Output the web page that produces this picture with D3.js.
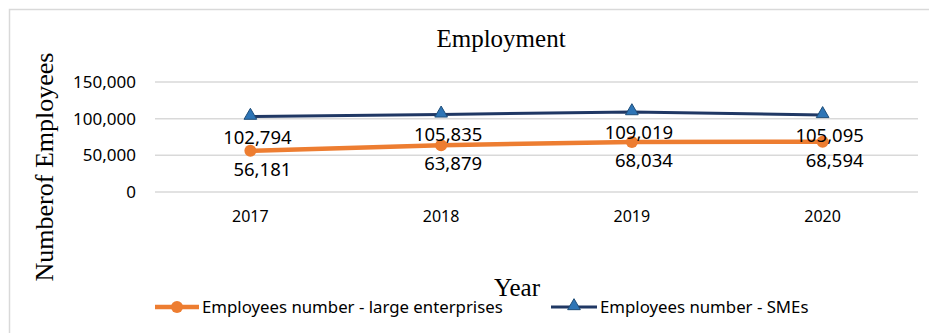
<!DOCTYPE html>
<html lang="en">
<head>
  <meta charset="utf-8">
  <title>Employment</title>
  <script src="https://d3js.org/d3.v7.min.js"></script>
  <style type="text/css">
    body { margin: 0; background: #fff; }
    text { font-family: "Noto Sans", "Open Sans", sans-serif; fill: #000; }
    .serif { font-family: "Liberation Serif", "Times New Roman", serif; }
  </style>
</head>
<body>
  <script type="text/javascript">
    // data
    var years = ["2017", "2018", "2019", "2020"];
    var largeEnterprises = [56181, 63879, 68034, 68594];
    var smes = [102794, 105835, 109019, 105095];
    var yTicks = [0, 50000, 100000, 150000];
    var seriesNames = ["Employees number - large enterprises", "Employees number - SMEs"];

    var w = 929, h = 333;
    var margin = { top: 82, right: 11, bottom: 142, left: 155 };

    var svg = d3.select("body").append("svg")
      .attr("width", w)
      .attr("height", h);

    // outer frame
    svg.append("rect")
      .attr("x", 9.5).attr("y", 9.5)
      .attr("width", 940).attr("height", 340)
      .attr("fill", "none")
      .attr("stroke", "#d9d9d9")
      .attr("stroke-width", 1.5);

    var x = d3.scaleBand()
      .domain(years)
      .range([margin.left, w - margin.right]);

    var y = d3.scaleLinear()
      .domain([0, 150000])
      .range([h - margin.bottom + 1, margin.top]);

    // gridlines
    svg.append("g").selectAll("line")
      .data(yTicks)
      .enter().append("line")
      .attr("x1", margin.left).attr("x2", w - margin.right)
      .attr("y1", function (d) { return y(d); })
      .attr("y2", function (d) { return y(d); })
      .attr("stroke", "#d9d9d9")
      .attr("stroke-width", 1.5);

    // y axis labels
    var fmt = d3.format(",");
    svg.append("g").selectAll("text")
      .data(yTicks)
      .enter().append("text")
      .attr("x", 136)
      .attr("y", function (d) { return y(d); })
      .attr("dy", "0.36em")
      .attr("text-anchor", "end")
      .style("font-size", "17px")
      .text(function (d) { return fmt(d); });

    // x axis labels
    svg.append("g").selectAll("text")
      .data(years)
      .enter().append("text")
      .attr("x", function (d) { return x(d) + x.bandwidth() / 2; })
      .attr("y", 222)
      .attr("text-anchor", "middle")
      .style("font-size", "16px")
      .text(function (d) { return d; });

    var cx = function (d, i) { return x(years[i]) + x.bandwidth() / 2; };

    var line = d3.line()
      .x(function (d, i) { return cx(d, i); })
      .y(function (d) { return y(d); });

    // large enterprises
    svg.append("path")
      .datum(largeEnterprises)
      .attr("d", line)
      .attr("fill", "none")
      .attr("stroke", "#ed7d31")
      .attr("stroke-width", 4.5)
      .attr("stroke-linecap", "round");

    svg.append("g").selectAll("circle")
      .data(largeEnterprises)
      .enter().append("circle")
      .attr("cx", cx)
      .attr("cy", function (d) { return y(d); })
      .attr("r", 6)
      .attr("fill", "#ed7d31");

    // SMEs
    svg.append("path")
      .datum(smes)
      .attr("d", line)
      .attr("fill", "none")
      .attr("stroke", "#203864")
      .attr("stroke-width", 3);

    var tri = d3.symbol().type(d3.symbolTriangle).size(70);
    svg.append("g").selectAll("path")
      .data(smes)
      .enter().append("path")
      .attr("d", tri)
      .attr("transform", function (d, i) { return "translate(" + cx(d, i) + "," + (y(d) - 1) + ")"; })
      .attr("fill", "#2e75b6")
      .attr("stroke", "#1f4e79")
      .attr("stroke-width", 1);

    // data labels
    svg.append("g").selectAll("text")
      .data(smes)
      .enter().append("text")
      .attr("x", function (d, i) { return cx(d, i) + 7; })
      .attr("y", function (d) { return y(d) + 27; })
      .attr("text-anchor", "middle")
      .style("font-size", "18.5px")
      .text(function (d) { return fmt(d); });

    svg.append("g").selectAll("text")
      .data(largeEnterprises)
      .enter().append("text")
      .attr("x", function (d, i) { return cx(d, i) + 12; })
      .attr("y", function (d) { return y(d) + 25; })
      .attr("text-anchor", "middle")
      .style("font-size", "18.5px")
      .text(function (d) { return fmt(d); });

    // titles
    svg.append("text")
      .attr("class", "serif")
      .attr("x", 501).attr("y", 47)
      .attr("text-anchor", "middle")
      .style("font-size", "25px")
      .text("Employment");

    svg.append("text")
      .attr("class", "serif")
      .attr("transform", "translate(53,167) rotate(-90)")
      .attr("text-anchor", "middle")
      .style("font-size", "26px")
      .text("Numberof Employees");

    svg.append("text")
      .attr("class", "serif")
      .attr("x", 517).attr("y", 296)
      .attr("text-anchor", "middle")
      .style("font-size", "25px")
      .text("Year");

    // legend
    var legend = svg.append("g");
    var lg1 = legend.append("g").attr("transform", "translate(155,307)");
    lg1.append("line").attr("x1", 0).attr("x2", 44)
      .attr("stroke", "#ed7d31").attr("stroke-width", 4.5);
    lg1.append("circle").attr("cx", 22).attr("r", 6).attr("fill", "#ed7d31");
    lg1.append("text").attr("x", 47).attr("dy", "0.36em")
      .style("font-size", "16.8px").text(seriesNames[0]);

    var lg2 = legend.append("g").attr("transform", "translate(551,307)");
    lg2.append("line").attr("x1", 0).attr("x2", 46)
      .attr("stroke", "#203864").attr("stroke-width", 3);
    lg2.append("path").attr("d", tri).attr("transform", "translate(23,-1)")
      .attr("fill", "#2e75b6").attr("stroke", "#1f4e79");
    lg2.append("text").attr("x", 49).attr("dy", "0.36em")
      .style("font-size", "16.8px").text(seriesNames[1]);
  </script>
</body>
</html>
